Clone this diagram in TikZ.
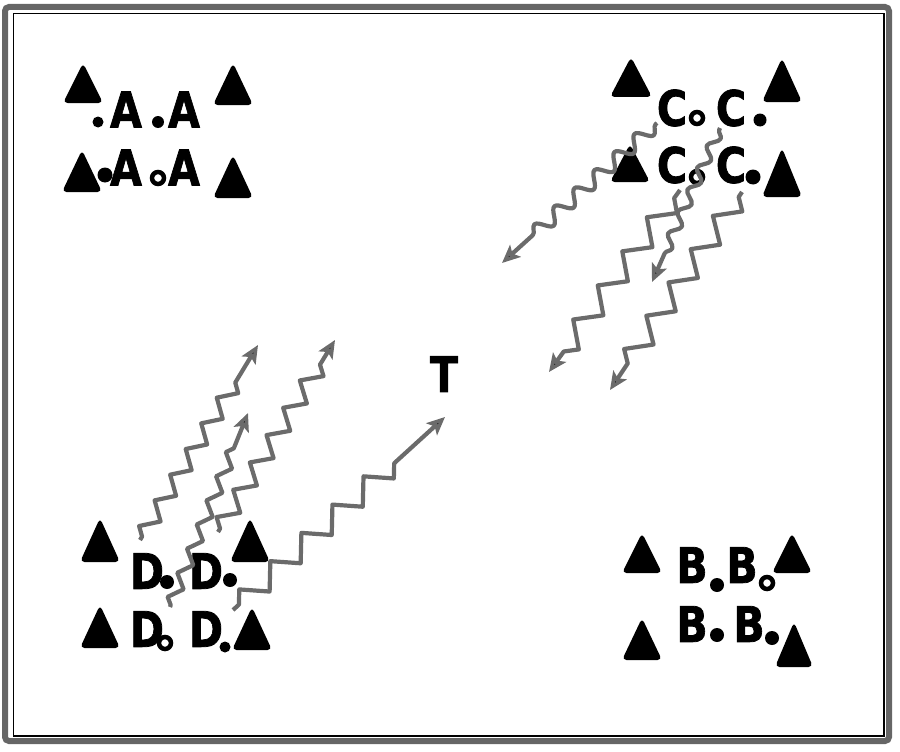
\documentclass[tikz,border=0pt]{standalone}
\usepackage{fontspec}
\setmainfont{DejaVu Sans}
\newfontfamily\heavy{DejaVu Sans}[BoldFeatures={FakeBold=1.6}]
\usetikzlibrary{decorations.pathmorphing,arrows.meta}
\tikzset{
  letter/.style={inner sep=0pt, font=\heavy\bfseries\fontsize{49}{49}\selectfont, xscale=0.84},
  dot/.style={circle, fill=black, inner sep=0pt, minimum size=#1},
  dot/.default=13,
  ring/.style={circle, draw=black, line width=4.5pt, inner sep=0pt, minimum size=#1},
  ring/.default=12,
  pics/tri/.style n args={2}{code={\fill[black, rounded corners=4.5pt] (-#1/2,0) -- (0,-#2) -- (#1/2,0) -- cycle;}},
  wave/.style={draw=black!58, line width=4.2pt, line join=round, decorate,
    -{Stealth[length=18pt,width=16pt,inset=4pt,fill=black]}},
  zz/.style n args={4}{wave, decoration={zigzag, amplitude=#1, segment length=#2, pre length=#3, post length=#4}},
  sn/.style n args={4}{wave, decoration={snake, amplitude=#1, segment length=#2, pre length=#3, post length=#4}},
}
\begin{document}
\begin{tikzpicture}[x=1pt,y=-1pt]
\useasboundingbox (0,0) rectangle (900,752);
% frame
\draw[black!60, line width=6pt, rounded corners=4pt] (5,7) rectangle (889,741);
\draw[black, line width=1.4pt] (13.5,13.5) rectangle (884,736);

% ---- group A
\pic at (83,103) {tri={40}{40}};
\pic at (233,105) {tri={40}{42}};
\pic at (82,192) {tri={40}{42}};
\pic at (233,198) {tri={40}{43}};
\node[letter] (a1) at (126,109.5) {A};
\node[letter] (a2) at (184,109.5) {A};
\node[letter] (a3) at (126,167.5) {A};
\node[letter] (a4) at (184,167.5) {A};
\node[dot=11] (ad1) at (98,122) {};
\node[dot=12] (ad2) at (158,122) {};
\node[dot=15] (ad3) at (105,175) {};
\node[ring=12] (ad4) at (158,178) {};

% ---- group C
\pic at (631,97) {tri={42}{40}};
\pic at (782,102) {tri={40}{44}};
\pic at (630,182) {tri={40}{38}};
\pic at (782,197) {tri={40}{49}};
\node[letter] (c1) at (672,108) {C};
\node[letter] (c2) at (731,108) {C};
\node[letter] (c3) at (672,165) {C};
\node[letter] (c4) at (731,165) {C};
\node[ring=12] (cd1) at (697,118) {};
\node[dot=13] (cd2) at (760,120) {};
\node[ring=12] (cd3) at (697,177) {};
\node[dot=15] (cd4) at (753,177) {};

% ---- group D
\pic at (100,562) {tri={40}{44}};
\pic at (250,562) {tri={40}{44}};
\pic at (100,648) {tri={40}{43}};
\pic at (252,650) {tri={40}{43}};
\node[letter] (d1) at (147,571) {D};
\node[letter] (d2) at (206,571) {D};
\node[letter] (d3) at (147,629) {D};
\node[letter] (d4) at (206,629) {D};
\node[dot=14] (dd1) at (167,582) {};
\node[dot=14] (dd2) at (230,580) {};
\node[ring=12] (dd3) at (165,643) {};
\node[dot=11] (dd4) at (225,647) {};

% ---- group B
\pic at (642,573) {tri={40}{40}};
\pic at (792,573) {tri={40}{40}};
\pic at (642,660) {tri={40}{42}};
\pic at (794,667) {tri={38}{45}};
\node[letter] (b1) at (692,565) {B};
\node[letter] (b2) at (742,565) {B};
\node[letter] (b3) at (692,624) {B};
\node[letter] (b4) at (749,624) {B};
\node[dot=14] (bd1) at (717,585) {};
\node[ring=12] (bd2) at (767,583) {};
\node[dot=14] (bd3) at (717,635) {};
\node[dot=14] (bd4) at (772,638) {};

% ---- T
\node[letter] (t) at (444,374) {T};

% ---- connector ends
\coordinate (c1s) at (657,123); \coordinate (c1e) at (502,263);
\coordinate (c2s) at (680,190); \coordinate (c2e) at (549,372);
\coordinate (c3s) at (720,128); \coordinate (c3e) at (652,282);
\coordinate (c4s) at (742,192); \coordinate (c4e) at (610,390);
\coordinate (d1s) at (140,540); \coordinate (d1e) at (258,345);
\coordinate (d2s) at (170,607); \coordinate (d2e) at (248,413);
\coordinate (d3s) at (218,532); \coordinate (d3e) at (335,340);
\coordinate (d4s) at (233,610); \coordinate (d4e) at (445,417);

% ---- wavy arrows
\path[sn={7}{27}{2}{28}] (c1s) -- (c1e);
\path[zz={11}{42}{10}{20}] (c2s) -- (c2e);
\path[sn={5}{24}{2}{25}] (c3s) -- (c3e);
\path[zz={11}{40}{6}{28}] (c4s) -- (c4e);
\path[zz={8}{30}{4}{35}] (d1s) -- (d1e);
\path[zz={6}{26}{2}{38}] (d2s) -- (d2e);
\path[zz={9}{32}{4}{28}] (d3s) -- (d3e);
\path[zz={11}{42}{8}{55}] (d4s) -- (d4e);
\end{tikzpicture}
\end{document}
